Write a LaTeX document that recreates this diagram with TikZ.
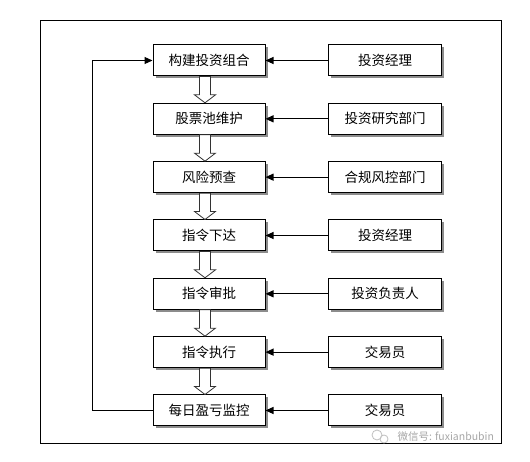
\documentclass[tikz,border=0pt]{standalone}
\usepackage{fontspec}
\newfontfamily\cjk{Noto Sans CJK SC}
\usetikzlibrary{arrows.meta,shadows,calc}
\begin{document}
\begin{tikzpicture}[x=1pt,y=-1pt,
  procbox/.style={draw=black, line width=1pt, fill=white, minimum width=112pt, minimum height=31pt,
    inner sep=0pt, font=\cjk\fontsize{13.5}{14}\selectfont,
    drop shadow={shadow xshift=2.5pt, shadow yshift=-2.5pt, fill=black!45, opacity=1}},
  rolebox/.style={procbox, minimum width=113pt},
  harrow/.style={line width=1.1pt, -{Triangle[length=8pt,width=7pt]}},
  blockar/.style={draw=black!80, line width=0.8pt, fill=white},
  frame/.style={draw=black, line width=1pt}
]
\useasboundingbox (0,0) rectangle (530,462);
\draw[frame] (40,21) rectangle (501,443);

\foreach \i/\a/\b in {1/构建投资组合/投资经理, 2/股票池维护/投资研究部门, 3/风险预查/合规风控部门,
  4/指令下达/投资经理, 5/指令审批/投资负责人, 6/指令执行/交易员, 7/每日盈亏监控/交易员}{
  \node[procbox] (n\i) at (209, {60.5+58.33*(\i-1)}) {\a};
  \node[rolebox] (r\i) at (385, {60.5+58.33*(\i-1)}) {\b};
  \draw[harrow] (r\i.west) -- (n\i.east);
}

\foreach \i [evaluate=\i as \j using int(\i+1)] in {1,...,6}{
  \draw[blockar] let \p1=(n\i.south), \p2=(n\j.north) in
    (\x1-9.5pt,\y1) -- (\x1+1.5pt,\y1) -- (\x1+1.5pt,\y2+8pt) -- (\x1+6.5pt,\y2+8pt)
    -- (\x1-4pt,\y2) -- (\x1-14.5pt,\y2+8pt) -- (\x1-9.5pt,\y2+8pt) -- cycle;
}

\draw[harrow] (n7.west) -- ++(-60,0) |- (n1.west);

\node[text=black!35, font=\cjk\fontsize{10.5}{11}\selectfont, anchor=west] (wm) at (394,437) {微信号: fuxianbubin};
\draw[black!25, line width=0.8pt] (377,435) circle (5) (384,439) circle (4);
\end{tikzpicture}
\end{document}
